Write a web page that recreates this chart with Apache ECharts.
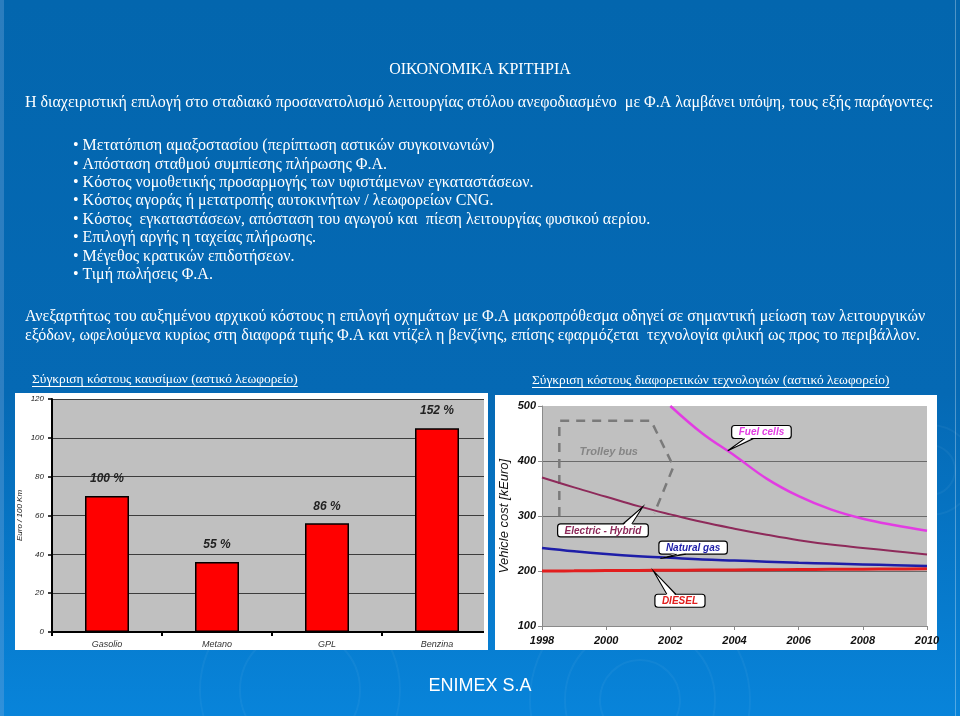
<!DOCTYPE html>
<html>
<head>
<meta charset="utf-8">
<script src="https://cdn.jsdelivr.net/npm/echarts@6/dist/echarts.min.js"></script>
<style>
html,body{margin:0;padding:0;background:#0566B0;}
#chart{width:960px;height:716px;}
</style>
</head>
<body>
<div id="chart"></div>
<script>
// ---------- Data ----------
const fuelCategories = ['Gasolio', 'Metano', 'GPL', 'Benzina'];
const fuelCost = [70, 36, 56, 105];
const fuelPctLabels = ['100 %', '55 %', '86 %', '152 %'];

const years = [1998, 1999, 2000, 2001, 2002, 2003, 2004, 2005, 2006, 2007, 2008, 2009, 2010];
const dieselCost = [200, 200.3, 200.7, 201, 201.3, 201.7, 202, 202.3, 202.7, 203, 203.3, 203.7, 204];
const naturalGasCost = [242, 236, 231, 227, 224, 221, 219, 217, 215, 213.5, 212, 210.5, 209];
const hybridCost = [370, 352, 335, 318, 303, 289, 277, 266, 256, 248, 242, 236, 230];
const fuelCellCost = [null, null, null, null, 500, 450, 410, 368, 336, 312, 295, 283, 273];
const trolleyBusOutline = [[1998.54, 300], [1998.54, 473], [2001.4, 473], [2002.1, 390], [2001.5, 305]];

const calloutNames = ['Fuel cells', 'Electric - Hybrid', 'Natural gas', 'DIESEL'];

const headerTitle = 'ΟΙΚΟΝΟΜΙΚΑ ΚΡΙΤΗΡΙΑ';
const introLine = 'Η διαχειριστική επιλογή στο σταδιακό προσανατολισμό λειτουργίας στόλου ανεφοδιασμένο  με Φ.Α λαμβάνει υπόψη, τους εξής παράγοντες:';
const bulletItems = [
  'Μετατόπιση αμαξοστασίου (περίπτωση αστικών συγκοινωνιών)',
  'Απόσταση σταθμού συμπίεσης πλήρωσης Φ.Α.',
  'Κόστος νομοθετικής προσαρμογής των υφιστάμενων εγκαταστάσεων.',
  'Κόστος αγοράς ή μετατροπής αυτοκινήτων / λεωφορείων CNG.',
  'Κόστος  εγκαταστάσεων, απόσταση του αγωγού και  πίεση λειτουργίας φυσικού αερίου.',
  'Επιλογή αργής η ταχείας πλήρωσης.',
  'Μέγεθος κρατικών επιδοτήσεων.',
  'Τιμή πωλήσεις Φ.Α.'
];
const paragraphLines = [
  'Ανεξαρτήτως του αυξημένου αρχικού κόστους η επιλογή οχημάτων με Φ.Α μακροπρόθεσμα οδηγεί σε σημαντική μείωση των λειτουργικών',
  'εξόδων, ωφελούμενα κυρίως στη διαφορά τιμής Φ.Α και ντίζελ η βενζίνης, επίσης εφαρμόζεται  τεχνολογία φιλική ως προς το περιβάλλον.'
];
const leftChartTitle = 'Σύγκριση κόστους καυσίμων (αστικό λεωφορείο)';
const rightChartTitle = 'Σύγκριση κόστους διαφορετικών τεχνολογιών (αστικό λεωφορείο)';
const footerText = 'ENIMEX S.A';

// ---------- Helpers ----------
const pair = (xs, ys) => xs.map((x, i) => [x, ys[i]]);
const SERIF = '"Liberation Serif", "DejaVu Serif", serif';
const SANS = '"Liberation Sans", Arial, sans-serif';
const measureCtx = document.createElement('canvas').getContext('2d');
function textW(t, font) { measureCtx.font = font; return measureCtx.measureText(t).width; }

const bgGradient = {
  type: 'linear', x: 0, y: 0, x2: 0, y2: 716, global: true,
  colorStops: [
    { offset: 0, color: '#0366AE' },
    { offset: 0.55, color: '#0569B4' },
    { offset: 1, color: '#0884DA' }
  ]
};

const graphics = [];
// slide edges
graphics.push({ type: 'rect', z: -20, shape: { x: 0, y: 0, width: 4, height: 716 }, style: { fill: 'rgba(120,170,220,0.35)' } });
graphics.push({ type: 'rect', z: -20, shape: { x: 955, y: 0, width: 1, height: 716 }, style: { fill: 'rgba(255,255,255,0.3)' } });
// faint ripples
[[640, 700, 40], [640, 700, 75], [640, 700, 110], [300, 690, 60], [300, 690, 100], [930, 470, 25], [930, 470, 45]].forEach(r => {
  graphics.push({ type: 'circle', z: -19, shape: { cx: r[0], cy: r[1], r: r[2] }, style: { fill: 'none', stroke: 'rgba(255,255,255,0.045)', lineWidth: 2 } });
});
// chart panels
graphics.push({ type: 'rect', z: -10, shape: { x: 15, y: 393, width: 473, height: 257 }, style: { fill: '#FFFFFF' } });
graphics.push({ type: 'rect', z: -10, shape: { x: 495, y: 395, width: 442, height: 255 }, style: { fill: '#FFFFFF' } });
// overlay clipping left chart right edge
graphics.push({ type: 'rect', z: 100, shape: { x: 484, y: 393, width: 4, height: 257 }, style: { fill: '#FFFFFF' } });
graphics.push({ type: 'rect', z: 100, shape: { x: 488, y: 393, width: 7, height: 257 }, style: { fill: bgGradient } });

// texts
const F16 = '16px ' + SERIF;
graphics.push({ type: 'text', z: 10, style: { text: headerTitle, x: 480, y: 70, font: F16, fill: '#FFFFFF', align: 'center', verticalAlign: 'middle' } });
graphics.push({ type: 'text', z: 10, style: { text: introLine, x: 25, y: 103, font: F16, fill: '#FFFFFF', align: 'left', verticalAlign: 'middle' } });
bulletItems.forEach((t, i) => {
  graphics.push({ type: 'text', z: 10, style: { text: '• ' + t, x: 73, y: 146 + i * 18.4, font: F16, fill: '#FFFFFF', align: 'left', verticalAlign: 'middle' } });
});
paragraphLines.forEach((t, i) => {
  graphics.push({ type: 'text', z: 10, style: { text: t, x: 25, y: 317 + i * 19, font: F16, fill: '#FFFFFF', align: 'left', verticalAlign: 'middle' } });
});
const F13 = '13.4px ' + SERIF;
[[leftChartTitle, 32, 379], [rightChartTitle, 532, 380]].forEach(s => {
  const w = textW(s[0], F13);
  graphics.push({ type: 'text', z: 10, style: { text: s[0], x: s[1], y: s[2], font: F13, fill: '#FFFFFF', align: 'left', verticalAlign: 'middle' } });
  graphics.push({ type: 'rect', z: 10, shape: { x: s[1], y: s[2] + 7, width: w, height: 1 }, style: { fill: '#FFFFFF' } });
});
graphics.push({ type: 'text', z: 10, style: { text: footerText, x: 480, y: 686, font: '18px ' + SANS, fill: '#FFFFFF', align: 'center', verticalAlign: 'middle' } });

// ---------- Callouts (custom series, drawn in data coordinates) ----------
const calloutColors = ['#E23CE2', '#8E2A5A', '#1E1EA8', '#E21E1E'];
const calloutData = [
  [2003.79, 418.6, 2004.84, 452.7],
  [2001.14, 316.7, 1999.9, 273.7],
  [2001.69, 222.7, 2002.71, 242.4],
  [2001.48, 199.6, 2002.3, 145.9]
];
function renderCallout(params, api) {
  const i = params.dataIndex;
  const tip = api.coord([api.value(0), api.value(1)]);
  const c = api.coord([api.value(2), api.value(3)]);
  const font = 'italic bold 10px ' + SANS;
  const txt = calloutNames[i];
  const w = textW(txt, font) + 14, h = 13;
  const left = c[0] - w / 2, top = c[1] - h / 2;
  const below = tip[1] > c[1];
  const baseY = below ? top + h : top;
  let bx = c[0] + (tip[0] - c[0]) * 0.5;
  bx = Math.max(left + 4, Math.min(left + w - 13, bx));
  const inset = below ? -1.5 : 1.5;
  return {
    type: 'group',
    children: [
      { type: 'rect', shape: { x: left, y: top, width: w, height: h, r: 3 }, style: { fill: '#FFFFFF', stroke: '#000000', lineWidth: 1.2 } },
      { type: 'polygon', shape: { points: [[bx, baseY + inset], tip, [bx + 9, baseY + inset]] }, style: { fill: '#FFFFFF' } },
      { type: 'polyline', shape: { points: [[bx, baseY], tip, [bx + 9, baseY]] }, style: { stroke: '#000000', lineWidth: 1.1, fill: null } },
      { type: 'text', style: { text: txt, x: c[0], y: c[1] + 0.5, font: font, fill: calloutColors[i], align: 'center', verticalAlign: 'middle' } }
    ]
  };
}

// ---------- Chart ----------
const chart = echarts.init(document.getElementById('chart'), null, { renderer: 'canvas' });
const axisFont = SANS;
const option = {
  animation: false,
  backgroundColor: bgGradient,
  graphic: { elements: graphics },
  grid: [
    { left: 52, top: 399, width: 440, height: 233, show: true, backgroundColor: '#C0C0C0', borderWidth: 0, outerBoundsMode: 'none', containLabel: false },
    { left: 542, top: 406, width: 385, height: 220, show: true, backgroundColor: '#C0C0C0', borderWidth: 0, outerBoundsMode: 'none', containLabel: false }
  ],
  xAxis: [
    {
      gridIndex: 0, type: 'category', data: fuelCategories,
      axisLine: { show: true, lineStyle: { color: '#000', width: 2 } },
      axisTick: { show: true, alignWithLabel: false, length: 4, lineStyle: { color: '#000', width: 2 } },
      axisLabel: { fontFamily: axisFont, fontSize: 9, fontStyle: 'italic', color: '#333', margin: 8 },
      splitLine: { show: false }
    },
    {
      gridIndex: 1, type: 'value', min: 1998, max: 2010, interval: 2,
      axisLine: { show: true, lineStyle: { color: '#8A8A8A', width: 1 } },
      axisTick: { show: true, length: 4, lineStyle: { color: '#8A8A8A' } },
      axisLabel: { fontFamily: axisFont, fontSize: 11, fontStyle: 'italic', fontWeight: 'bold', color: '#111', margin: 9, formatter: v => String(v) },
      splitLine: { show: false }
    }
  ],
  yAxis: [
    {
      gridIndex: 0, type: 'value', min: 0, max: 120, interval: 20,
      name: 'Euro / 100 Km', nameLocation: 'middle', nameGap: 28,
      nameTextStyle: { fontFamily: axisFont, fontSize: 8, fontStyle: 'italic', color: '#222' },
      axisLine: { show: true, lineStyle: { color: '#000', width: 2 } },
      axisTick: { show: true, length: 4, lineStyle: { color: '#000', width: 1.5 } },
      axisLabel: { fontFamily: axisFont, fontSize: 8, fontStyle: 'italic', color: '#222', margin: 8 },
      splitLine: { show: true, lineStyle: { color: '#3C3C3C', width: 1 } }
    },
    {
      gridIndex: 1, type: 'value', min: 100, max: 500, interval: 100,
      name: 'Vehicle cost [kEuro]', nameLocation: 'middle', nameGap: 31,
      nameTextStyle: { fontFamily: axisFont, fontSize: 13, fontStyle: 'italic', color: '#111' },
      axisLine: { show: true, lineStyle: { color: '#8A8A8A', width: 1 } },
      axisTick: { show: true, length: 4, lineStyle: { color: '#8A8A8A' } },
      axisLabel: { fontFamily: axisFont, fontSize: 11, fontStyle: 'italic', fontWeight: 'bold', color: '#111', margin: 6 },
      splitLine: { show: true, showMinLine: false, showMaxLine: false, lineStyle: { color: '#6A6A6A', width: 1 } }
    }
  ],
  series: [
    {
      type: 'bar', xAxisIndex: 0, yAxisIndex: 0, data: fuelCost, barWidth: 44,
      itemStyle: { color: '#FF0000', borderColor: '#000', borderWidth: 1.5 },
      label: {
        show: true, position: 'top', distance: 11,
        formatter: p => fuelPctLabels[p.dataIndex],
        fontFamily: axisFont, fontSize: 12, fontStyle: 'italic', fontWeight: 'bold', color: '#222'
      }
    },
    {
      name: 'Trolley bus', type: 'line', xAxisIndex: 1, yAxisIndex: 1, data: trolleyBusOutline,
      showSymbol: false, symbol: 'none',
      lineStyle: { color: '#7A7A7A', width: 2.5, type: [9, 7] },
      markPoint: {
        symbol: 'circle', symbolSize: 0,
        data: [{ coord: [2000.08, 416.8] }],
        label: { show: true, formatter: 'Trolley bus', position: 'inside', fontFamily: axisFont, fontSize: 11, fontStyle: 'italic', fontWeight: 'bold', color: '#858585' }
      }
    },
    {
      name: 'Electric - Hybrid', type: 'line', xAxisIndex: 1, yAxisIndex: 1, data: pair(years, hybridCost),
      smooth: 0.4, showSymbol: false, symbol: 'none', lineStyle: { color: '#8E2A5A', width: 2 }
    },
    {
      name: 'DIESEL', type: 'line', xAxisIndex: 1, yAxisIndex: 1, data: pair(years, dieselCost),
      smooth: 0.4, showSymbol: false, symbol: 'none', lineStyle: { color: '#E21E1E', width: 3 }
    },
    {
      name: 'Natural gas', type: 'line', xAxisIndex: 1, yAxisIndex: 1, data: pair(years, naturalGasCost),
      smooth: 0.4, showSymbol: false, symbol: 'none', lineStyle: { color: '#1E1EA8', width: 2.5 }
    },
    {
      name: 'Fuel cells', type: 'line', xAxisIndex: 1, yAxisIndex: 1, data: pair(years, fuelCellCost),
      smooth: 0.4, showSymbol: false, symbol: 'none', connectNulls: false, lineStyle: { color: '#E23CE2', width: 2.5 }
    },
    {
      type: 'custom', xAxisIndex: 1, yAxisIndex: 1, data: calloutData, renderItem: renderCallout, z: 5, clip: false
    }
  ]
};
chart.setOption(option);
</script>
</body>
</html>
